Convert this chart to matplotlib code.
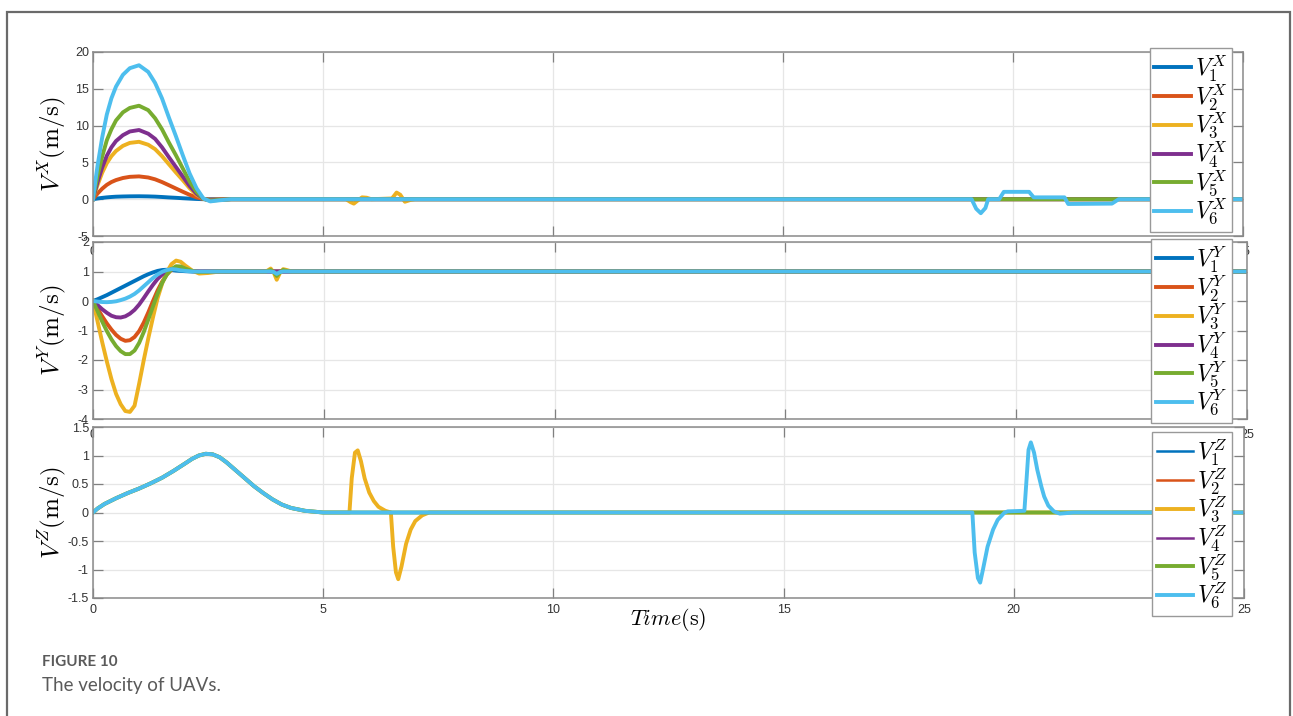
import matplotlib
matplotlib.use("Agg")
import matplotlib.pyplot as plt
from matplotlib.patches import Rectangle

plt.rcParams["mathtext.fontset"] = "cm"
plt.rcParams["axes.unicode_minus"] = False
plt.rcParams["font.family"] = ["Liberation Sans", "DejaVu Sans"]

# MATLAB default line colours, UAV 1..6
colors = ["#0072BD", "#D95319", "#EDB120", "#7E2F8E", "#77AC30", "#4DBEEE"]

# ---- V^X data ----
t_x = [0, 0.05, 0.1, 0.2, 0.3, 0.4, 0.5, 0.65, 0.8, 1.0, 1.2, 1.35, 1.5, 1.65,
       1.8, 1.95, 2.1, 2.25, 2.4, 2.55, 2.75, 3.0]
vx_start = [
    [0, 0.05, 0.1, 0.18, 0.25, 0.3, 0.34, 0.37, 0.39, 0.4, 0.38, 0.35, 0.3, 0.24,
     0.19, 0.13, 0.08, 0.03, 0, 0, 0, 0],
    [0, 0.4, 0.78, 1.43, 1.95, 2.33, 2.6, 2.88, 3.04, 3.1, 2.95, 2.7, 2.33, 1.9,
     1.46, 1.02, 0.6, 0.25, 0.02, -0.05, -0.02, 0],
    [0, 1.0, 1.95, 3.6, 4.9, 5.85, 6.55, 7.25, 7.65, 7.8, 7.4, 6.8, 5.85, 4.75,
     3.65, 2.6, 1.5, 0.6, 0.04, -0.12, -0.06, 0],
    [0, 1.2, 2.35, 4.3, 5.9, 7.05, 7.9, 8.7, 9.2, 9.4, 8.9, 8.2, 7.05, 5.7, 4.4,
     3.1, 1.8, 0.75, 0.05, -0.15, -0.08, 0],
    [0, 1.65, 3.2, 5.8, 8.0, 9.5, 10.7, 11.8, 12.4, 12.7, 12.1, 11.0, 9.5, 7.7,
     6.0, 4.2, 2.4, 1.0, 0.06, -0.2, -0.1, 0],
    [0, 2.4, 4.6, 8.4, 11.5, 13.7, 15.3, 16.9, 17.8, 18.2, 17.3, 15.8, 13.7, 11.1,
     8.6, 6.0, 3.5, 1.5, 0.1, -0.3, -0.15, 0],
]
# later disturbances (UAV 3 around 6 s, UAV 6 around 20 s)
vx3_t = [5.5, 5.6, 5.67, 5.75, 5.85, 5.95, 6.05, 6.5, 6.6, 6.68, 6.78, 6.9, 7.0]
vx3_v = [0, -0.4, -0.6, -0.2, 0.25, 0.2, 0, 0.1, 0.9, 0.6, -0.35, -0.1, 0]
vx6_t = [19.1, 19.2, 19.3, 19.4, 19.46, 19.7, 19.8, 20.35, 20.45, 21.12, 21.2, 22.15, 22.3]
vx6_v = [0, -1.3, -1.9, -1.2, 0, 0, 1.0, 1.0, 0.25, 0.25, -0.65, -0.6, 0]

# ---- V^Y data ----
t_y = [0, 0.1, 0.2, 0.3, 0.4, 0.5, 0.6, 0.7, 0.8, 0.9, 1.0, 1.1, 1.2, 1.3, 1.4,
       1.5, 1.6, 1.7, 1.8, 1.9, 2.0, 2.15, 2.3, 2.5, 2.7, 3.0]
vy_start = [
    [0, 0.06, 0.13, 0.2, 0.28, 0.36, 0.44, 0.52, 0.6, 0.68, 0.76, 0.84, 0.91, 0.97,
     1.02, 1.05, 1.06, 1.05, 1.03, 1.02, 1.01, 1.0, 1.0, 1.0, 1.0, 1.0],
    [0, -0.26, -0.52, -0.76, -0.97, -1.15, -1.28, -1.35, -1.33, -1.22, -1.02,
     -0.73, -0.38, 0.0, 0.36, 0.66, 0.9, 1.06, 1.13, 1.12, 1.07, 1.02, 1.0, 1.0,
     1.0, 1.0],
    [0, -0.7, -1.4, -2.05, -2.65, -3.15, -3.5, -3.73, -3.76, -3.55, -2.8, -2.0,
     -1.25, -0.55, 0.1, 0.6, 0.98, 1.25, 1.37, 1.33, 1.2, 1.03, 0.93, 0.95, 0.99,
     1.0],
    [0, -0.14, -0.28, -0.4, -0.5, -0.55, -0.56, -0.52, -0.43, -0.3, -0.12, 0.1,
     0.33, 0.55, 0.75, 0.9, 1.02, 1.08, 1.1, 1.08, 1.04, 1.01, 1.0, 1.0, 1.0, 1.0],
    [0, -0.35, -0.7, -1.02, -1.3, -1.53, -1.7, -1.8, -1.8, -1.68, -1.42, -1.05,
     -0.62, -0.18, 0.25, 0.62, 0.9, 1.08, 1.18, 1.17, 1.1, 1.02, 0.98, 0.99, 1.0,
     1.0],
    [0, -0.02, -0.035, -0.04, -0.03, -0.01, 0.03, 0.08, 0.15, 0.24, 0.36, 0.5,
     0.64, 0.78, 0.9, 0.99, 1.05, 1.08, 1.07, 1.04, 1.02, 1.0, 1.0, 1.0, 1.0, 1.0],
]
dy_t = [3.75, 3.85, 3.92, 3.98, 4.05, 4.12, 4.2, 4.3]
vy3_d = [1.0, 1.1, 0.95, 0.72, 0.95, 1.08, 1.05, 1.0]
vy5_d = [1.0, 1.05, 0.97, 0.85, 0.97, 1.05, 1.02, 1.0]
vy6_d = [1.0, 1.0, 0.98, 0.92, 0.98, 1.0, 1.0, 1.0]

# ---- V^Z data ----
t_z = [0, 0.1, 0.25, 0.5, 0.75, 1.0, 1.25, 1.5, 1.75, 2.0, 2.15, 2.3, 2.45, 2.6,
       2.75, 2.9, 3.1, 3.3, 3.5, 3.7, 3.9, 4.1, 4.3, 4.6, 5.0]
vz_common = [0, 0.07, 0.15, 0.25, 0.34, 0.42, 0.51, 0.61, 0.73, 0.86, 0.94, 1.0,
             1.03, 1.02, 0.97, 0.88, 0.74, 0.6, 0.46, 0.34, 0.23, 0.14, 0.08, 0.03, 0]
vz3_t = [5.57, 5.62, 5.69, 5.75, 5.82, 5.9, 6.0, 6.1, 6.2, 6.35, 6.47, 6.52, 6.58,
         6.63, 6.7, 6.8, 6.9, 7.0, 7.15, 7.3]
vz3_v = [0, 0.6, 1.05, 1.09, 0.9, 0.6, 0.35, 0.2, 0.1, 0.03, 0, -0.6, -1.05, -1.17,
         -0.95, -0.55, -0.3, -0.15, -0.05, 0]
vz6_t = [19.1, 19.15, 19.22, 19.27, 19.33, 19.43, 19.55, 19.65, 19.8, 19.87, 20.23,
         20.27, 20.32, 20.37, 20.44, 20.51, 20.6, 20.66, 20.75, 20.87, 21.0, 21.3]
vz6_v = [0, -0.7, -1.15, -1.23, -1.0, -0.6, -0.3, -0.13, 0.0, 0.02, 0.03, 0.5, 1.1,
         1.23, 1.05, 0.75, 0.45, 0.28, 0.12, 0.02, -0.02, 0]

T_END = 25


def series(t0, v0, extra=None, tail=0.0):
    """Join the start transient, an optional disturbance and the flat tail."""
    t = list(t0)
    v = list(v0)
    if extra is not None:
        t += list(extra[0])
        v += list(extra[1])
    t.append(T_END)
    v.append(tail)
    return t, v


W, H = 1293, 716
fig = plt.figure(figsize=(W / 100, H / 100), dpi=100)

# page frame around the figure
fig.patches.append(Rectangle((7 / W, -0.05), (1290 - 7) / W, 1.05 - 12 / H,
                             transform=fig.transFigure, fill=False,
                             edgecolor="#6a6a6a", linewidth=1.6))


def make_axes(left, right, top, bottom):
    return fig.add_axes([left / W, 1 - bottom / H, (right - left) / W, (bottom - top) / H])


ax_x = make_axes(93, 1243, 52, 236)
ax_y = make_axes(93, 1247, 242, 419)
ax_z = make_axes(93, 1244, 427, 598)

# V^X
for i in range(6):
    extra = None
    if i == 2:
        extra = (vx3_t, vx3_v)
    if i == 5:
        extra = (vx6_t, vx6_v)
    t, v = series(t_x, vx_start[i], extra)
    ax_x.plot(t, v, color=colors[i], lw=2.8, label=r"$V_{%d}^{X}$" % (i + 1))

# V^Y
for i in range(6):
    extra = None
    if i == 2:
        extra = (dy_t, vy3_d)
    if i == 4:
        extra = (dy_t, vy5_d)
    if i == 5:
        extra = (dy_t, vy6_d)
    t, v = series(t_y, vy_start[i], extra, tail=1.0)
    ax_y.plot(t, v, color=colors[i], lw=2.8, label=r"$V_{%d}^{Y}$" % (i + 1))

# V^Z
for i in range(6):
    extra = None
    if i == 2:
        extra = (vz3_t, vz3_v)
    if i == 5:
        extra = (vz6_t, vz6_v)
    t, v = series(t_z, vz_common, extra)
    lw = 2.8 if i in (2, 4, 5) else 1.8
    ax_z.plot(t, v, color=colors[i], lw=lw, label=r"$V_{%d}^{Z}$" % (i + 1))

setups = [
    (ax_x, (-5, 20), range(-5, 21, 5), [str(v) for v in range(-5, 21, 5)],
     r"$V^X(\mathrm{m/s})$", 48),
    (ax_y, (-4, 2), range(-4, 3), [str(v) for v in range(-4, 3)],
     r"$V^Y(\mathrm{m/s})$", 239),
    (ax_z, (-1.5, 1.5), [-1.5, -1, -0.5, 0, 0.5, 1, 1.5],
     ["-1.5", "-1", "-0.5", "0", "0.5", "1", "1.5"], r"$V^Z(\mathrm{m/s})$", 432),
]
for ax, ylim, yt, ylab, ytitle, leg_top in setups:
    ax.set_xlim(0, 25)
    ax.set_ylim(*ylim)
    ax.set_xticks(range(0, 26, 5))
    ax.set_yticks(list(yt))
    ax.set_yticklabels(ylab)
    ax.grid(True, color="#e6e6e6", linewidth=0.9)
    ax.set_axisbelow(True)
    ax.tick_params(direction="in", length=7, width=0.9, color="#808080",
                   labelsize=9, labelcolor="#333333", top=True, right=True, pad=3)
    ax.tick_params(axis="x", pad=7)
    for s in ax.spines.values():
        s.set_color("#8a8a8a")
        s.set_linewidth(1.1)
    ax.set_ylabel(ytitle, fontsize=18)
    ax.yaxis.set_label_coords(-0.022, 0.5)
    leg = ax.legend(loc="upper right", bbox_to_anchor=(1232 / W, 1 - leg_top / H),
                    bbox_transform=fig.transFigure, borderaxespad=0, fancybox=False,
                    framealpha=1, edgecolor="#999999", fontsize=17, handlelength=1.55,
                    handletextpad=0.15, labelspacing=-0.08, borderpad=0.2)
    leg.get_frame().set_linewidth(1.0)

ax_z.tick_params(axis="x", pad=4)
ax_z.set_xlabel(r"$Time(\mathrm{s})$", fontsize=16, labelpad=-7)

# caption
fig.text(42 / W, 1 - 666 / H, "FIGURE 10", fontsize=11, fontweight="bold",
         color="#5a5a5a", family="Lato", va="baseline")
fig.text(42 / W, 1 - 691 / H, "The velocity of UAVs.", fontsize=13.5,
         color="#5a5a5a", family="Lato", va="baseline")

fig.savefig("out.png", dpi=100)
